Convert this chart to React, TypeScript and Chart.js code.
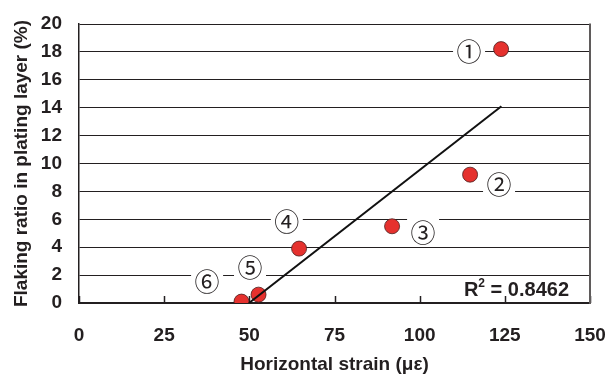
import React, { useEffect, useRef } from 'react';
import { Chart, registerables } from 'chart.js';

Chart.register(...registerables);

// ---- data ----
const strainX = [123.9, 114.8, 91.9, 64.6, 52.7, 47.7];
const flakingY = [18.2, 9.2, 5.5, 3.9, 0.6, 0.1];
const trendX = [49.9, 124.0];
const trendY = [0.0, 14.1];
const markerLabels = ['①', '②', '③', '④', '⑤', '⑥'];
const labelX = [114.5, 123.3, 101.0, 61.0, 50.2, 37.6];
const labelY = [18.1, 8.6, 5.1, 5.9, 2.6, 1.6];
const xTickValues = [0, 25, 50, 75, 100, 125, 150];
const yTickValues = [0, 2, 4, 6, 8, 10, 12, 14, 16, 18, 20];
const r2Value = '0.8462';
const xTitle = 'Horizontal strain (με)';
const yTitle = 'Flaking ratio in plating layer (%)';

const INK = '#231f20';
const RED = '#e5312e';
const FONT = '"Liberation Sans", Arial, sans-serif';

const annotPlugin = {
  id: 'annot',
  beforeDatasetsDraw(chart: any) {
    const { ctx, chartArea, scales } = chart;
    const xs = scales.x;
    const ys = scales.y;
    ctx.save();
    // inward tick marks on x axis
    ctx.strokeStyle = INK;
    ctx.lineWidth = 1.5;
    xTickValues.forEach((v) => {
      const px = Math.round(xs.getPixelForValue(v)) + 0.5;
      ctx.beginPath();
      ctx.moveTo(px, chartArea.bottom);
      ctx.lineTo(px, chartArea.bottom - 7);
      ctx.stroke();
    });
    // right border
    ctx.strokeStyle = '#5f5b5b';
    ctx.lineWidth = 2;
    ctx.beginPath();
    ctx.moveTo(chartArea.right, chartArea.top - 0.5);
    ctx.lineTo(chartArea.right, chartArea.bottom + 1);
    ctx.stroke();
    // point labels with white boxes
    ctx.font = '25px "Noto Sans CJK JP", "DejaVu Sans", sans-serif';
    ctx.textAlign = 'center';
    ctx.textBaseline = 'middle';
    markerLabels.forEach((t, i) => {
      const cx = xs.getPixelForValue(labelX[i]);
      const cy = ys.getPixelForValue(labelY[i]);
      ctx.fillStyle = '#ffffff';
      ctx.fillRect(cx - 16, cy - 15, 32, 30);
      ctx.fillStyle = INK;
      ctx.fillText(t, cx, cy + 1);
    });
    ctx.restore();
  },
  afterDatasetsDraw(chart: any) {
    const { ctx, chartArea } = chart;
    ctx.save();
    ctx.fillStyle = INK;
    ctx.textBaseline = 'alphabetic';
    ctx.textAlign = 'left';
    const big = `bold 20px ${FONT}`;
    const small = `bold 12px ${FONT}`;
    ctx.font = big;
    const wR = ctx.measureText('R').width;
    const rest = ' = ' + r2Value;
    const wRest = ctx.measureText(rest).width;
    ctx.font = small;
    const w2 = ctx.measureText('2').width;
    const total = wR + w2 + wRest;
    const x0 = chartArea.right - 21 - total;
    const base = chartArea.bottom - 7;
    ctx.font = big;
    ctx.fillText('R', x0, base);
    ctx.font = small;
    ctx.fillText('2', x0 + wR, base - 9);
    ctx.font = big;
    ctx.fillText(rest, x0 + wR + w2, base);
    ctx.restore();
  },
};

export default function App() {
  const ref = useRef<HTMLCanvasElement | null>(null);
  useEffect(() => {
    if (!ref.current) return;
    const chart = new Chart(ref.current, {
      type: 'scatter',
      data: {
        datasets: [
          {
            type: 'line',
            label: 'trend',
            data: trendX.map((x, i) => ({ x, y: trendY[i] })),
            borderColor: '#111111',
            borderWidth: 2,
            pointRadius: 0,
            showLine: true,
            fill: false,
            order: 0,
          } as any,
          {
            label: 'flaking',
            data: strainX.map((x, i) => ({ x, y: flakingY[i] })),
            backgroundColor: RED,
            borderColor: '#4a1f1f',
            borderWidth: 0.8,
            pointRadius: 7.5,
            order: 1,
          },
        ],
      },
      options: {
        responsive: false,
        animation: false,
        devicePixelRatio: 1,
        layout: { padding: { left: 0, right: 22, top: 24, bottom: 0 } },
        plugins: { legend: { display: false }, tooltip: { enabled: false } },
        scales: {
          x: {
            type: 'linear',
            min: 0,
            max: 150,
            afterBuildTicks: (s: any) => {
              s.ticks = xTickValues.map((v) => ({ value: v }));
            },
            afterFit: (s: any) => {
              s.height = 71;
              s.paddingLeft = 0;
              s.paddingRight = 0;
            },
            grid: { display: false, drawTicks: false },
            border: { display: true, color: INK, width: 2 },
            ticks: {
              font: { family: FONT, size: 19, weight: 'bold' },
              color: INK,
              padding: 21,
              maxRotation: 0,
            },
            title: {
              display: true,
              text: xTitle,
              font: { family: FONT, size: 19, weight: 'bold', lineHeight: 1 },
              color: INK,
              padding: { top: 0, bottom: 0 },
            },
          },
          y: {
            type: 'linear',
            min: 0,
            max: 20,
            afterBuildTicks: (s: any) => {
              s.ticks = yTickValues.map((v) => ({ value: v }));
            },
            afterFit: (s: any) => {
              s.width = 79;
              s.paddingTop = 0;
              s.paddingBottom = 0;
            },
            grid: { color: INK, lineWidth: 1, drawTicks: false },
            border: { display: true, color: INK, width: 1.5 },
            ticks: {
              font: { family: FONT, size: 19, weight: 'bold' },
              color: INK,
              padding: 17,
            },
            title: {
              display: true,
              text: yTitle,
              font: { family: FONT, size: 19, weight: 'bold', lineHeight: 1 },
              color: INK,
              padding: { top: 12, bottom: 0 },
            },
          },
        },
      },
      plugins: [annotPlugin],
    });
    return () => chart.destroy();
  }, []);
  return (
    <div style={{ position: 'absolute', left: 0, top: 0, width: 612, height: 374, background: '#fff' }}>
      <canvas ref={ref} width={612} height={374} style={{ width: 612, height: 374, display: 'block' }} />
    </div>
  );
}
